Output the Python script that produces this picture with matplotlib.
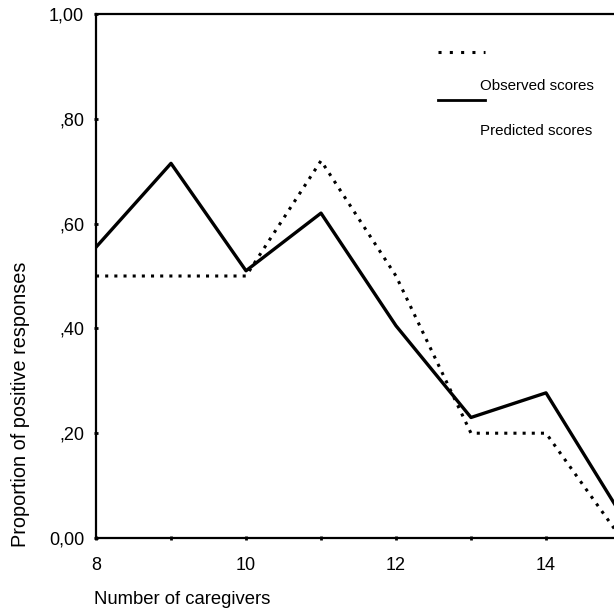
import matplotlib
matplotlib.use("Agg")
import matplotlib.pyplot as plt

plt.rcParams['font.family'] = ['Liberation Sans', 'DejaVu Sans']

caregivers = [8, 9, 10, 11, 12, 13, 14, 15]
observed = [0.50, 0.50, 0.50, 0.72, 0.50, 0.20, 0.20, 0.00]
predicted = [0.555, 0.715, 0.51, 0.62, 0.405, 0.23, 0.277, 0.045]
yticks = [0.0, 0.2, 0.4, 0.6, 0.8, 1.0]
ytick_labels = ["0,00", ",20", ",40", ",60", ",80", "1,00"]
xticks = [8, 9, 10, 11, 12, 13, 14, 15]
xtick_labels = ["8", "", "10", "", "12", "", "14", ""]

W, H = 614, 612
fig = plt.figure(figsize=(W / 100, H / 100), dpi=100)
left, right, top, bottom = 96, 621, 14, 538
ax = fig.add_axes([left / W, 1 - bottom / H, (right - left) / W, (bottom - top) / H])

ax.plot(caregivers, observed, color='black', lw=2.2, linestyle=(0, (1, 2)), solid_capstyle='butt')
ax.plot(caregivers, predicted, color='black', lw=2.4)

ax.set_xlim(8, 15)
ax.set_ylim(0, 1)
ax.set_xticks(xticks)
ax.set_xticklabels(xtick_labels)
ax.set_yticks(yticks)
ax.set_yticklabels(ytick_labels)
ax.tick_params(axis='both', direction='inout', length=3, width=2, labelsize=13)
ax.tick_params(axis='x', pad=12)
ax.tick_params(axis='y', pad=7)
for s in ax.spines.values():
    s.set_linewidth(1.6)

fig.text(21 / W, 1 - 404 / H, "Proportion of positive responses", rotation=90,
         ha='center', va='center', fontsize=14.3)
fig.text(94 / W, 1 - 600 / H, "Number of caregivers", ha='left', va='center', fontsize=13.3)

# legend
fig.add_artist(plt.Line2D([438 / W, 485 / W], [1 - 52 / H, 1 - 52 / H], color='black',
                          lw=2.2, linestyle=(0, (1, 2.7))))
fig.text(480 / W, 1 - 86 / H, "Observed scores", ha='left', va='center', fontsize=10.9)
fig.add_artist(plt.Line2D([438 / W, 485 / W], [1 - 100 / H, 1 - 100 / H], color='black', lw=2))
fig.text(480 / W, 1 - 131 / H, "Predicted scores", ha='left', va='center', fontsize=10.9)

fig.savefig("out.png", dpi=100)
